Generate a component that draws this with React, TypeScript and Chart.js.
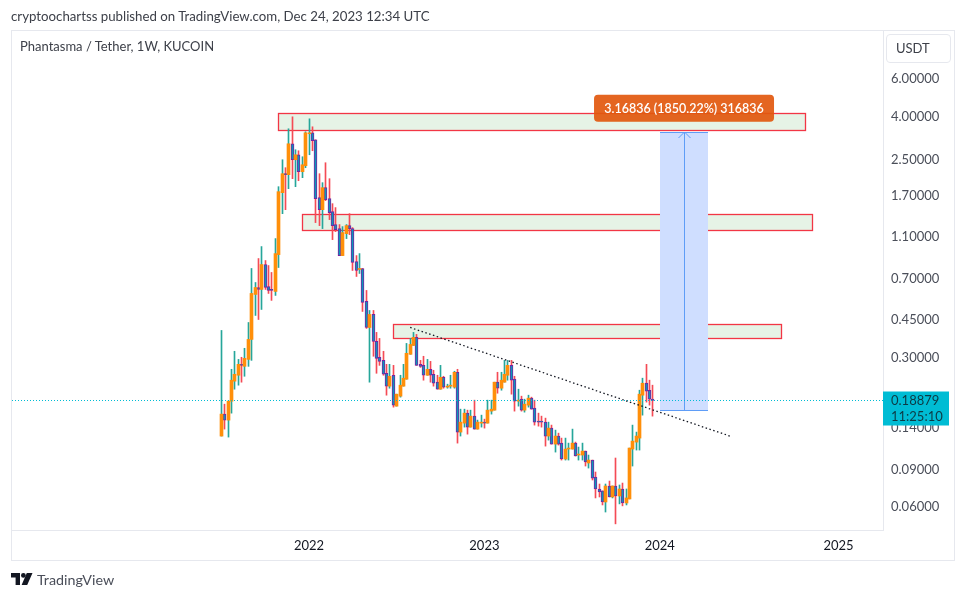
import React, { useEffect, useRef } from "react";
import { Chart, registerables } from "chart.js";

Chart.register(...registerables);

const UI_FONT = "Lato, 'Open Sans', sans-serif";

const opens = [
  .1288,.1631,.1529,.1875,.2324,.2477,.2785,.2726,.2938,.3641,
  .5907,.6364,.6233,.8148,.6433,.6233,.6100,.9067,1.765,2.164,
  2.141,2.986,2.515,2.653,2.211,2.358,3.325,3.360,3.117,1.672,
  1.470,1.862,1.655,1.439,1.252,1.199,.8970,1.136,1.238,1.199,
  .8415,.7727,.7810,.5481,.4140,.4763,.3563,.3005,.2907,.2530,
  .2203,.2477,.1777,.1978,.2203,.2374,.3103,.3414,.3722,.2785,
  .2755,.2477,.2641,.2503,.2299,.2132,.2424,.2179,.2203,.2179,
  .2558,.1344,.1480,.1648,.1418,.1596,.1388,.1480,.1496,.1480,
  .1684,.1702,.2299,.2155,.2299,.2477,.2755,.2374,.1875,.1915,
  .1702,.1796,.1936,.1739,.1512,.1512,.1496,.1288,.1403,.1181,
  .1288,.1194,.1006,.1120,.1120,.1194,.1050,.1050,.1096,.0964,
  .0995,.0829,.0729,.0714,.0634,.0753,.0669,.0753,.0676,.0729,
  .0627,.0655,.1120,.1207,.1260,.1999,.2274,.2109,.1915,
];
const highs = [
  .4010,.1815,.1875,.2641,.3205,.2938,.3005,.3310,.4368,.7810,
  .6716,.8690,.9884,.8506,.8061,.7482,1.077,1.882,2.515,2.308,
  3.508,3.990,2.800,2.770,2.597,3.397,3.905,3.584,3.117,2.164,
  1.965,2.435,2.051,1.568,1.503,1.252,1.225,1.252,1.408,1.212,
  .8970,.9164,.7810,.6166,.4972,.4972,.3928,.3680,.3205,.2785,
  .2785,.2755,.2021,.2477,.2785,.3488,.3680,.3928,.3844,.2907,
  .3038,.2938,.2876,.2613,.2477,.2755,.2450,.2250,.2477,.2585,
  .2641,.1720,.1720,.1702,.1702,.1895,.1529,.1613,.1545,.1895,
  .1895,.2299,.2558,.2558,.2907,.2907,.2907,.2450,.2132,.1978,
  .1915,.1999,.1957,.1895,.1648,.1596,.1562,.1496,.1449,.1373,
  .1329,.1260,.1260,.1194,.1388,.1207,.1144,.1194,.1096,.1050,
  .0995,.0875,.0769,.0714,.0769,.0794,.0753,.1017,.0761,.0777,
  .0729,.1132,.1449,.1344,.2109,.2400,.2785,.2349,.2226,
];
const lows = [
  .1288,.1388,.1274,.1648,.2132,.2226,.2299,.2450,.2726,.2907,
  .4712,.4511,.5026,.6233,.5970,.5540,.5844,.7890,1.408,1.470,
  1.842,2.051,1.882,2.007,2.073,2.308,2.653,2.770,1.279,1.238,
  1.199,1.620,1.321,1.065,1.161,.8970,.8970,1.077,1.124,.7644,
  .7167,.7402,.4919,.4100,.2299,.3038,.2530,.2755,.2477,.1999,
  .2155,.1758,.1777,.1957,.2203,.2374,.3103,.3414,.2755,.2696,
  .2349,.2477,.2299,.2203,.2132,.2132,.2155,.2155,.2155,.2155,
  .1194,.1288,.1418,.1315,.1418,.1388,.1388,.1418,.1403,.1480,
  .1631,.1702,.2042,.2109,.2299,.2349,.2021,.1684,.1777,.1684,
  .1666,.1758,.1720,.1449,.1433,.1418,.1156,.1233,.1181,.1084,
  .1169,.0995,.0995,.0995,.1120,.1039,.0995,.0995,.0933,.0913,
  .0803,.0662,.0669,.0614,.0569,.0669,.0662,.0501,.0621,.0608,
  .0614,.0655,.0933,.1108,.1108,.1613,.1855,.1796,.1596,
];
const closes = [
  .1631,.1529,.1875,.2349,.2503,.2785,.2755,.2970,.3641,.5970,
  .6364,.6233,.8148,.6364,.6166,.6166,.9164,1.784,2.164,2.141,
  2.986,2.515,2.653,2.211,2.383,3.360,3.360,3.084,1.655,1.470,
  1.862,1.637,1.424,1.238,1.186,.8970,1.149,1.238,1.199,.8325,
  .7644,.7810,.5422,.4140,.4763,.3563,.2970,.2876,.2503,.2203,
  .2450,.1796,.2021,.2226,.2400,.3137,.3450,.3722,.2755,.2726,
  .2477,.2641,.2477,.2274,.2132,.2424,.2179,.2203,.2226,.2558,
  .1344,.1496,.1648,.1418,.1596,.1388,.1496,.1496,.1480,.1702,
  .1720,.2299,.2155,.2349,.2503,.2755,.2349,.1875,.1895,.1702,
  .1815,.1936,.1720,.1496,.1496,.1496,.1288,.1403,.1181,.1288,
  .1181,.1006,.1120,.1132,.1194,.1039,.1061,.1096,.0974,.0995,
  .0820,.0729,.0706,.0634,.0753,.0669,.0753,.0676,.0729,.0627,
  .0662,.1132,.1220,.1288,.2021,.2274,.2087,.1915,.18879,
];

const weekIndex = opens.map((_, i) => i);

const yearWeeks = [26, 78, 130, 183];
const yearLabels = ["2022", "2023", "2024", "2025"];
const priceTicks = [6, 4, 2.5, 1.7, 1.1, 0.7, 0.45, 0.3, 0.14, 0.09, 0.06];

const zoneStart = [16.8, 23.9, 50.9];
const zoneEnd = [173.4, 175.4, 166.2];
const zoneTop = [4.121, 1.393, 0.4276];
const zoneBottom = [3.433, 1.174, 0.368];

const measureStart = 130.1;
const measureEnd = 144.3;
const measureTop = 3.36;
const measureBottom = 0.1702;
const measureLabel = "3.16836 (1850.22%) 316836";

const trendWeeks = [56, 150.8];
const trendPrices = [0.414, 0.1288];

const lastPrice = 0.18879;
const lastPriceText = "0.18879";
const countdownText = "11:25:10";

const xMin = -62.07;
const xMax = 196.2;
const yMin = 0.0469;
const yMax = 10.04;

const ORANGE = "#ff8f0a";
const TEAL = "#26a69a";
const RED = "#f44b55";
const PURPLE = "#7b1fa2";
const DOWN_FILL = "#0b98b8";
const FRAME = "#e6e8ee";

const isUp = (i: number) => closes[i] >= opens[i];

const overlayPlugin = {
  id: "overlay",
  afterDatasetsUpdate(chart: any) {
    chart.data.datasets.forEach((ds: any, idx: number) => {
      if (ds.type === "line") return;
      chart.getDatasetMeta(idx).data.forEach((el: any) => {
        el.x = Math.floor(el.x) + 0.5;
      });
    });
  },
  beforeDatasetsDraw(chart: any) {
    const { ctx, scales, chartArea } = chart;
    const x = scales.x;
    const y = scales.y;
    ctx.save();
    ctx.strokeStyle = FRAME;
    ctx.lineWidth = 1;
    ctx.strokeRect(11.5, 30.5, 943, 530);
    ctx.beginPath();
    ctx.rect(chartArea.left, chartArea.top, chartArea.width, chartArea.height);
    ctx.clip();
    zoneStart.forEach((_, i) => {
      const l = Math.round(x.getPixelForValue(zoneStart[i])) + 0.5;
      const r = Math.round(x.getPixelForValue(zoneEnd[i])) - 0.5;
      const t = Math.floor(y.getPixelForValue(zoneTop[i])) + 0.5;
      const b = Math.floor(y.getPixelForValue(zoneBottom[i])) + 0.5;
      ctx.fillStyle = "#e6f3e6";
      ctx.fillRect(l, t, r - l, b - t);
      ctx.strokeStyle = "#f23645";
      ctx.lineWidth = 1.3;
      ctx.strokeRect(l, t, r - l, b - t);
    });
    const l = Math.round(x.getPixelForValue(measureStart));
    const r = Math.round(x.getPixelForValue(measureEnd));
    const t = Math.floor(y.getPixelForValue(measureTop));
    const b = Math.floor(y.getPixelForValue(measureBottom));
    ctx.fillStyle = "#cfdeff";
    ctx.fillRect(l, t, r - l, b - t);
    ctx.strokeStyle = "#5f9df7";
    ctx.lineWidth = 1;
    ctx.beginPath();
    ctx.moveTo(l, t + 0.5);
    ctx.lineTo(r, t + 0.5);
    ctx.moveTo(l, b + 0.5);
    ctx.lineTo(r, b + 0.5);
    const c = Math.round((l + r) / 2) + 0.5;
    ctx.moveTo(c, b);
    ctx.lineTo(c, t);
    ctx.moveTo(c - 6, t + 6);
    ctx.lineTo(c, t);
    ctx.lineTo(c + 6, t + 6);
    ctx.stroke();
    ctx.restore();
  },
  afterDraw(chart: any) {
    const { ctx, scales, chartArea } = chart;
    const x = scales.x;
    const y = scales.y;
    ctx.save();
    const cx = (x.getPixelForValue(measureStart) + x.getPixelForValue(measureEnd)) / 2;
    const top = y.getPixelForValue(measureTop);
    ctx.fillStyle = "rgba(226,88,14,0.92)";
    ctx.beginPath();
    ctx.roundRect(cx - 90, top - 38, 180, 27, 4);
    ctx.fill();
    ctx.fillStyle = "#ffffff";
    ctx.font = `600 12.5px ${UI_FONT}`;
    ctx.textAlign = "center";
    ctx.textBaseline = "middle";
    ctx.fillText(measureLabel, cx, top - 24);

    const py = y.getPixelForValue(lastPrice);
    ctx.fillStyle = "#00bcd4";
    ctx.fillRect(chartArea.right, py - 9, 66, 34);
    ctx.fillStyle = "#0d3a44";
    ctx.font = `13px ${UI_FONT}`;
    ctx.textAlign = "left";
    ctx.fillText(lastPriceText, chartArea.right + 8, py);
    ctx.fillText(countdownText, chartArea.right + 8, py + 16);
    ctx.restore();
  },
};

export default function App() {
  const ref = useRef<HTMLCanvasElement>(null);

  useEffect(() => {
    const upWeeks = weekIndex.filter((i) => isUp(i));
    const downWeeks = weekIndex.filter((i) => !isUp(i));
    const datasets: any[] = [
      {
        type: "bar",
        label: "Rising body",
        order: 2,
        grouped: false,
        barThickness: 3,
        borderWidth: 0,
        backgroundColor: ORANGE,
        data: upWeeks.map((i) => ({ x: i, y: [opens[i], closes[i]] })),
      },
      {
        type: "bar",
        label: "Falling body",
        order: 2,
        grouped: false,
        barThickness: 3,
        borderSkipped: false,
        borderWidth: 1,
        backgroundColor: DOWN_FILL,
        borderColor: PURPLE,
        data: downWeeks.map((i) => ({ x: i, y: [closes[i], opens[i]] })),
      },
      {
        type: "bar",
        label: "Wick",
        order: 3,
        grouped: false,
        barThickness: 1,
        borderWidth: 0,
        backgroundColor: weekIndex.map((i) => (isUp(i) ? TEAL : RED)),
        data: weekIndex.map((i) => ({ x: i, y: [lows[i], highs[i]] })),
      },
      {
        type: "line",
        label: "Trend",
        order: 0,
        borderColor: "#131722",
        borderWidth: 1.3,
        borderDash: [1.5, 2.5],
        pointRadius: 0,
        data: trendWeeks.map((w, i) => ({ x: w, y: trendPrices[i] })),
      },
      {
        type: "line",
        label: "Last price",
        order: 1,
        borderColor: "#00bcd4",
        borderWidth: 1.2,
        borderDash: [1, 2],
        pointRadius: 0,
        data: [
          { x: xMin, y: lastPrice },
          { x: xMax, y: lastPrice },
        ],
      },
    ];

    const chart = new Chart(ref.current as HTMLCanvasElement, {
      type: "bar",
      data: { datasets },
      plugins: [overlayPlugin],
      options: {
        responsive: false,
        animation: false,
        devicePixelRatio: 1,
        layout: { padding: { left: 12, top: 31, right: 11, bottom: 39 } },
        plugins: { legend: { display: false }, tooltip: { enabled: false } },
        scales: {
          x: {
            type: "linear",
            min: xMin,
            max: xMax,
            offset: false,
            grid: { display: false, drawTicks: false },
            border: { display: true, color: FRAME },
            afterBuildTicks: (s: any) => {
              s.ticks = yearWeeks.map((v) => ({ value: v }));
            },
            afterFit: (s: any) => {
              s.height = 30;
            },
            ticks: {
              autoSkip: false,
              maxRotation: 0,
              padding: 8,
              color: "#131722",
              font: { family: UI_FONT, size: 13 },
              callback: (v: any) => yearLabels[yearWeeks.indexOf(Number(v))] ?? "",
            },
          },
          y: {
            type: "logarithmic",
            position: "right",
            min: yMin,
            max: yMax,
            grid: { display: false, drawTicks: false },
            border: { display: true, color: FRAME },
            afterBuildTicks: (s: any) => {
              s.ticks = priceTicks.map((v) => ({ value: v }));
            },
            afterFit: (s: any) => {
              s.width = 71;
            },
            ticks: {
              autoSkip: false,
              padding: 8,
              color: "#4a4e59",
              font: { family: UI_FONT, size: 13 },
              callback: (v: any) => Number(v).toFixed(5),
            },
          },
        },
      } as any,
    } as any);
    return () => chart.destroy();
  }, []);

  const text = (left: number, top: number, size: number, color: string): React.CSSProperties => ({
    position: "absolute",
    left,
    top,
    fontFamily: UI_FONT,
    fontSize: size,
    lineHeight: "16px",
    color,
    whiteSpace: "nowrap",
  });

  return (
    <div
      style={{
        position: "absolute",
        left: 0,
        top: 0,
        width: 965,
        height: 599,
        background: "#fff",
        overflow: "hidden",
      }}
    >
      <canvas ref={ref} width={965} height={599} style={{ position: "absolute", left: 0, top: 0 }} />
      <div style={text(11, 8, 13.25, "#3d4049")}>
        cryptoochartss published on TradingView.com, Dec 24, 2023 12:34 UTC
      </div>
      <div style={text(20, 38, 13, "#3d4049")}>Phantasma / Tether, 1W, KUCOIN</div>
      <div
        style={{
          position: "absolute",
          left: 886,
          top: 34,
          width: 65,
          height: 29,
          boxSizing: "border-box",
          border: "1px solid #e6e8ee",
          borderRadius: 4,
        }}
      />
      <div style={text(896, 40, 13, "#3d4049")}>USDT</div>
      <svg
        width={22}
        height={13}
        viewBox="0 0 22 13"
        style={{ position: "absolute", left: 11, top: 573 }}
      >
        <path d="M0 0H9V12H4.6V4.4H0Z M21.5 0L16.2 12H10.6L15.8 0Z" fill="#131722" />
        <circle cx="12.4" cy="2.4" r="2.4" fill="#131722" />
      </svg>
      <div style={text(37, 572, 14.3, "#4a4e59")}>TradingView</div>
    </div>
  );
}
